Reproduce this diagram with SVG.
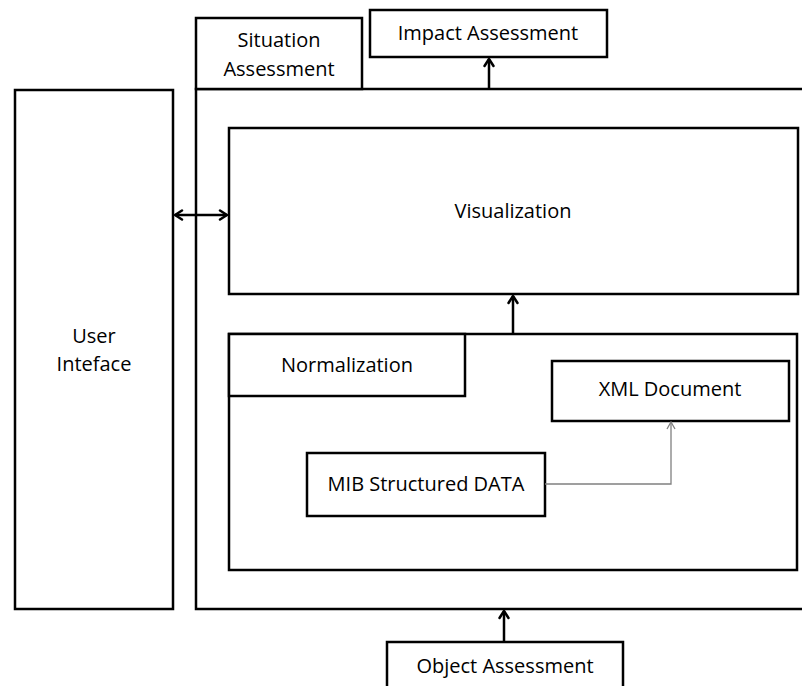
<svg xmlns="http://www.w3.org/2000/svg" width="802" height="686" viewBox="0 0 802 686">
<defs>
<style>
.box{fill:#fff;stroke:#000;stroke-width:2.5}
.t{font-family:"Open Sans","Liberation Sans",sans-serif;font-size:20px;fill:#000;text-anchor:middle}
.c{fill:none;stroke:#000;stroke-width:2.5}
.g{fill:none;stroke:#808080;stroke-width:1.3}
</style>
<marker id="ah" viewBox="0 0 12 12" refX="10" refY="6" markerWidth="12" markerHeight="12" orient="auto-start-reverse" markerUnits="userSpaceOnUse"><path d="M3,1.5 L10,6 L3,10.5" fill="none" stroke="#000" stroke-width="2.5" stroke-linecap="round" stroke-linejoin="round"/></marker>
<marker id="ahg" viewBox="0 0 10 10" refX="9" refY="5" markerWidth="10" markerHeight="10" orient="auto" markerUnits="userSpaceOnUse"><path d="M2,1 L9,5 L2,9" fill="none" stroke="#808080" stroke-width="1.3"/></marker>
</defs>
<rect width="802" height="686" fill="#fff"/>
<g id="user-interface"><rect class="box" x="15" y="90" width="158" height="519"/><text class="t" x="94" y="343">User</text><text class="t" x="94" y="371">Inteface</text></g>
<g id="situation-assessment"><rect class="box" x="196" y="89" width="620" height="520"/><rect class="box" x="196" y="18" width="166" height="71"/><text class="t" x="279" y="47">Situation</text><text class="t" x="279" y="76">Assessment</text></g>
<g id="impact-assessment"><rect class="box" x="370" y="10" width="237" height="47"/><text class="t" x="488" y="40">Impact Assessment</text></g>
<g id="visualization"><rect class="box" x="229" y="128" width="569" height="166"/><text class="t" x="513" y="218">Visualization</text></g>
<g id="normalization"><rect class="box" x="229" y="334" width="568" height="236"/><rect class="box" x="229" y="334" width="236" height="62"/><text class="t" x="347" y="372">Normalization</text></g>
<g id="xml-document"><rect class="box" x="552" y="361" width="237" height="60"/><text class="t" x="670" y="396">XML Document</text></g>
<g id="mib-data"><rect class="box" x="307" y="453" width="238" height="63"/><text class="t" x="426" y="491">MIB Structured DATA</text></g>
<g id="object-assessment"><rect class="box" x="387" y="642" width="236" height="60"/><text class="t" x="505" y="673">Object Assessment</text></g>
<g id="connectors">
<path class="c" d="M489,89 V59" marker-end="url(#ah)"/>
<path class="c" d="M513,334 V296" marker-end="url(#ah)"/>
<path class="c" d="M504,642 V611" marker-end="url(#ah)"/>
<path class="c" d="M175,215 H227" marker-start="url(#ah)" marker-end="url(#ah)"/>
<path class="g" d="M545,484 H671 V422" marker-end="url(#ahg)"/>
</g>
</svg>
